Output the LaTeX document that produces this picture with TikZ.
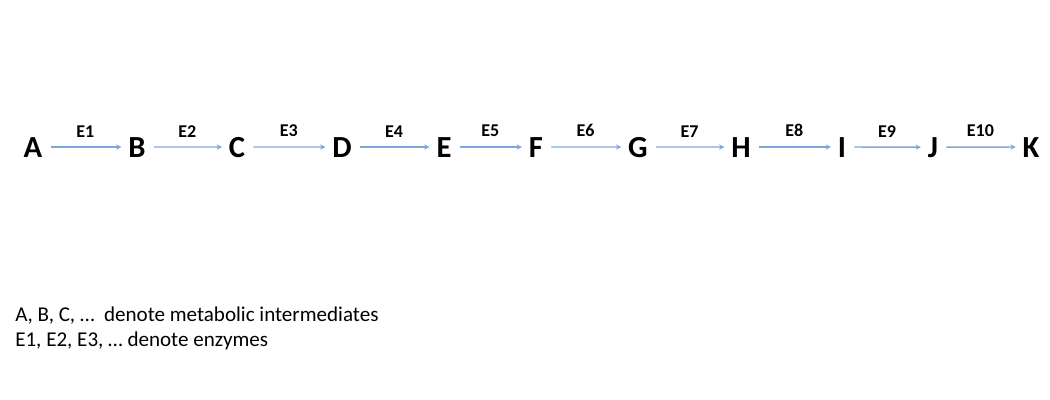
\documentclass[tikz,border=0pt]{standalone}
\usepackage{fontspec}
\setmainfont{Carlito}
\usepackage{tikz}
\usetikzlibrary{arrows.meta}

\definecolor{arrowblue}{RGB}{125,168,220}

\tikzset{
    metab/.style={font=\fontsize{23}{23}\selectfont\bfseries, inner sep=0pt, anchor=base},
    enz/.style={font=\fontsize{13.5}{13.5}\selectfont\bfseries, above, inner sep=0pt, yshift=7pt},
    react/.style={draw=arrowblue, line width=1pt, -{Stealth[length=4pt,width=4pt]}, shorten <=6pt, shorten >=5pt}
}

\begin{document}
\begin{tikzpicture}[x=0.75pt, y=-0.75pt]
    \useasboundingbox (0,0) rectangle (1050,400);

        \node[metab] (A) at (33,157) {A};
        \node[metab] (B) at (137,157) {B};
        \node[metab] (C) at (237,157) {C};
        \node[metab] (D) at (342,157) {D};
        \node[metab] (E) at (444,157) {E};
        \node[metab] (F) at (536,157) {F};
        \node[metab] (G) at (638,157) {G};
        \node[metab] (H) at (741,157) {H};
        \node[metab] (I) at (842,157) {I};
        \node[metab] (J) at (933,157) {J};
        \node[metab] (K) at (1031,157) {K};

        % reactions
        \draw[react] (A) -- node[enz] {E1} (B);
        \draw[react] (B) -- node[enz] {E2} (C);
        \draw[react] (C) -- node[enz] {E3} (D);
        \draw[react] (D) -- node[enz] {E4} (E);
        \draw[react] (E) -- node[enz] {E5} (F);
        \draw[react] (F) -- node[enz] {E6} (G);
        \draw[react] (G) -- node[enz] {E7} (H);
        \draw[react] (H) -- node[enz] {E8} (I);
        \draw[react] (I) -- node[enz] {E9} (J);
        \draw[react] (J) -- node[enz] {E10} (K);

        % legend
        \node[anchor=base west, inner sep=0pt, font=\fontsize{15.8}{15.8}\selectfont] (legend1) at (15,321) {A, B, C, \dots\ \ denote metabolic intermediates};
        \node[anchor=base west, inner sep=0pt, font=\fontsize{15.8}{15.8}\selectfont] (legend2) at (15,346) {E1, E2, E3, \dots\ denote enzymes};

\end{tikzpicture}
\end{document}
